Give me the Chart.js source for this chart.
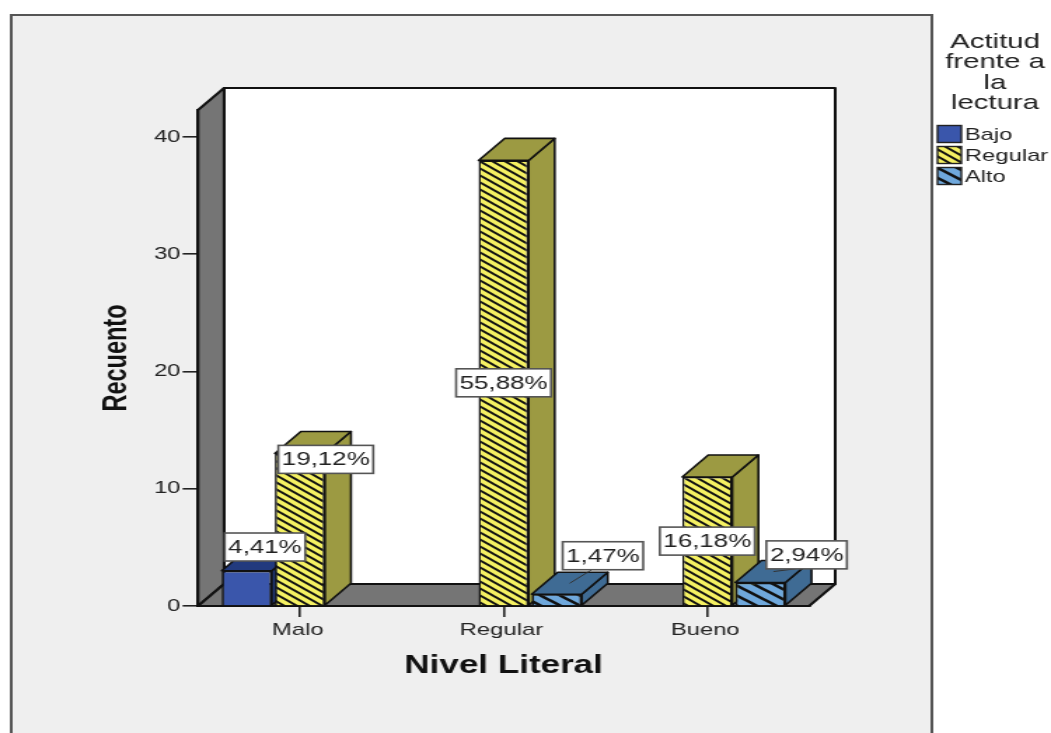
<!DOCTYPE html>
<html>
<head>
<meta charset="utf-8">
<title>Nivel Literal</title>
<script src="https://cdn.jsdelivr.net/npm/chart.js@4/dist/chart.umd.min.js"></script>
<style>
  html, body { margin: 0; padding: 0; background: #fff; overflow: hidden; }
  #chart { filter: blur(0.4px); }
</style>
</head>
<body>
<!-- the original picture is stretched sideways, so draw narrow and widen with css -->
<canvas id="chart" width="750" height="733" style="width:1051px;height:733px;display:block"></canvas>
<script>
const categories = ['Malo', 'Regular', 'Bueno'];
const bajoValues = [3, null, null];
const regularValues = [13, 38, 11];
const altoValues = [null, 1, 2];
const seriesNames = ['Bajo', 'Regular', 'Alto'];
const legendTitle = ['Actitud', 'frente a', 'la', 'lectura'];
const yMax = 42.3;

const FONT = "'Liberation Sans', Arial, sans-serif";
const DEPTH_X = 18.6;
const DEPTH_Y = 22;

function hatch(base, w, h, lineWidth) {
    const c = document.createElement('canvas');
    c.width = w;
    c.height = h;
    const g = c.getContext('2d');
    g.fillStyle = base;
    g.fillRect(0, 0, w, h);
    g.strokeStyle = '#111';
    g.lineWidth = lineWidth;
    g.beginPath();
    for (let k = -1; k <= 1; k++) {
        g.moveTo(-w, -h + k * h);
        g.lineTo(w * 2, h * 2 + k * h);
    }
    g.stroke();
    return g.createPattern(c, 'repeat');
}

const fronts = ['#3a56ab', hatch('#f5f162', 9, 7, 1.9), hatch('#6fa8dc', 14, 10, 2.6)];
const tops = ['#223a7e', '#9c9a42', '#3f6b94'];
const sides = ['#223a7e', '#9c9a42', '#3f6b94'];

// label box shift from the middle of the bar front, one row per series
const labelShift = [
    [[13, -41], null, null],
    [[18.5, -70], [0, 0], [0, 0]],
    [null, [33, -44], [33, -39]]
];

function poly(ctx, pts, fill) {
    ctx.beginPath();
    ctx.moveTo(pts[0][0], pts[0][1]);
    for (let i = 1; i < pts.length; i++) ctx.lineTo(pts[i][0], pts[i][1]);
    ctx.closePath();
    ctx.fillStyle = fill;
    ctx.fill();
    ctx.stroke();
}

const panel3d = {
    id: 'panel3d',
    beforeDraw(chart) {
        const ctx = chart.ctx;
        const a = chart.chartArea;
        ctx.save();
        // outer frame, open at the bottom
        ctx.fillStyle = '#efefef';
        ctx.fillRect(8, 15, 657, 720);
        ctx.strokeStyle = '#555';
        ctx.lineWidth = 2;
        ctx.beginPath();
        ctx.moveTo(8, 735); ctx.lineTo(8, 15); ctx.lineTo(665, 15); ctx.lineTo(665, 735);
        ctx.stroke();
        // back wall, side wall and floor
        ctx.strokeStyle = '#111';
        ctx.lineWidth = 2;
        ctx.lineJoin = 'round';
        const bx = a.left + DEPTH_X, by = a.top - DEPTH_Y;
        poly(ctx, [[bx, by], [a.right + DEPTH_X, by], [a.right + DEPTH_X, a.bottom - DEPTH_Y], [bx, a.bottom - DEPTH_Y]], '#fff');
        poly(ctx, [[a.left, a.top], [bx, by], [bx, a.bottom - DEPTH_Y], [a.left, a.bottom]], '#757575');
        poly(ctx, [[a.left, a.bottom], [bx, a.bottom - DEPTH_Y], [a.right + DEPTH_X, a.bottom - DEPTH_Y], [a.right, a.bottom]], '#757575');
        ctx.restore();
    },
    beforeDatasetsDraw(chart) {
        // top and side faces, left to right so nearer bars overlap
        const ctx = chart.ctx;
        const bars = [];
        chart.data.datasets.forEach((ds, d) => {
            chart.getDatasetMeta(d).data.forEach((el, i) => {
                if (ds.data[i] !== null) bars.push({ el, d });
            });
        });
        bars.sort((p, q) => p.el.x - q.el.x);
        ctx.save();
        ctx.strokeStyle = '#111';
        ctx.lineWidth = 1.6;
        ctx.lineJoin = 'round';
        bars.forEach(({ el, d }) => {
            const l = el.x - el.width / 2, r = el.x + el.width / 2;
            poly(ctx, [[r, el.y], [r + DEPTH_X, el.y - DEPTH_Y], [r + DEPTH_X, el.base - DEPTH_Y], [r, el.base]], sides[d]);
            poly(ctx, [[l, el.y], [l + DEPTH_X, el.y - DEPTH_Y], [r + DEPTH_X, el.y - DEPTH_Y], [r, el.y]], tops[d]);
        });
        ctx.restore();
    },
    afterDatasetsDraw(chart) {
        const ctx = chart.ctx;
        const values = chart.data.datasets.flatMap(ds => ds.data).filter(v => v !== null);
        const total = values.reduce((s, v) => s + v, 0);
        ctx.save();
        ctx.font = '18.5px ' + FONT;
        ctx.textAlign = 'center';
        ctx.textBaseline = 'middle';
        chart.data.datasets.forEach((ds, d) => {
            chart.getDatasetMeta(d).data.forEach((el, i) => {
                if (ds.data[i] === null) return;
                const text = (ds.data[i] / total * 100).toFixed(2).replace('.', ',') + '%';
                const shift = labelShift[d][i];
                const x = el.x + shift[0];
                const y = (el.y + el.base) / 2 + shift[1];
                const w = ctx.measureText(text).width + 5;
                const h = 28;
                // leader line for labels moved off short bars
                if (d !== 1) {
                    ctx.strokeStyle = '#333';
                    ctx.lineWidth = 1;
                    ctx.beginPath();
                    ctx.moveTo(el.x + DEPTH_X / 2, el.y - DEPTH_Y / 2);
                    ctx.lineTo(x - 8, y + h / 2);
                    ctx.stroke();
                }
                ctx.fillStyle = '#fff';
                ctx.strokeStyle = '#555';
                ctx.lineWidth = 1.6;
                ctx.fillRect(x - w / 2, y - h / 2, w, h);
                ctx.strokeRect(x - w / 2, y - h / 2, w, h);
                ctx.fillStyle = '#222';
                ctx.fillText(text, x, y + 1);
            });
        });
        ctx.restore();
    },
    afterDraw(chart) {
        // legend on the right, outside the frame
        const ctx = chart.ctx;
        ctx.save();
        ctx.fillStyle = '#222';
        ctx.textBaseline = 'middle';
        ctx.textAlign = 'center';
        ctx.font = '21px ' + FONT;
        legendTitle.forEach((line, i) => ctx.fillText(line, 710, 42 + i * 20.4));
        ctx.textAlign = 'left';
        ctx.font = '17px ' + FONT;
        chart.data.datasets.forEach((ds, d) => {
            const y = 134 + d * 21;
            ctx.fillStyle = ds.backgroundColor;
            ctx.fillRect(669, y - 8.5, 17, 17);
            ctx.strokeStyle = '#222';
            ctx.lineWidth = 1.4;
            ctx.strokeRect(669, y - 8.5, 17, 17);
            ctx.fillStyle = '#222';
            ctx.fillText(ds.label, 688.5, y + 1);
        });
        ctx.restore();
    }
};

const seriesValues = [bajoValues, regularValues, altoValues];

new Chart(document.getElementById('chart'), {
    type: 'bar',
    data: {
        labels: categories,
        datasets: seriesNames.map((name, d) => ({
            label: name,
            data: seriesValues[d],
            backgroundColor: fronts[d],
            borderColor: '#111',
            borderWidth: 1.6,
            categoryPercentage: 0.782,
            barPercentage: 0.943
        }))
    },
    options: {
        responsive: false,
        devicePixelRatio: 1,
        animation: false,
        font: { family: FONT },
        layout: {
            autoPadding: false,
            padding: { left: 69.5, right: 172.6, top: 110, bottom: 52 }
        },
        plugins: {
            legend: { display: false },
            tooltip: { enabled: false }
        },
        scales: {
            x: {
                afterFit(scale) { scale.height = 75; },
                grid: { offset: false, drawOnChartArea: false, tickLength: 11, color: '#222', lineWidth: 1.6 },
                border: { color: '#111', width: 2 },
                ticks: { color: '#222', padding: 3, maxRotation: 0, labelOffset: -1.5, font: { size: 17, family: FONT } },
                title: {
                    display: true,
                    text: 'Nivel Literal',
                    color: '#111',
                    padding: 0,
                    font: { size: 25, weight: 'bold', family: FONT }
                }
            },
            y: {
                min: 0,
                max: yMax,
                afterFit(scale) { scale.width = 71.8; },
                grid: { drawOnChartArea: false, tickLength: 11, color: '#222', lineWidth: 1.6 },
                border: { color: '#111', width: 2 },
                ticks: { color: '#222', padding: 1.5, stepSize: 10, includeBounds: false, font: { size: 17, family: FONT } },
                title: {
                    display: true,
                    text: 'Recuento',
                    color: '#111',
                    padding: 0,
                    font: { size: 23.5, weight: 'bold', family: FONT }
                }
            }
        }
    },
    plugins: [panel3d]
});
</script>
</body>
</html>
